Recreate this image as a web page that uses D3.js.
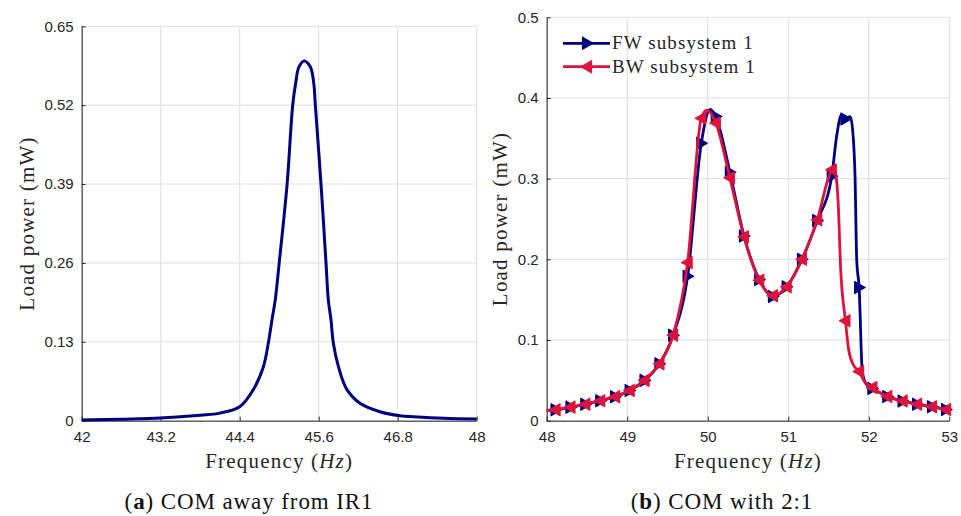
<!DOCTYPE html>
<html>
<head>
<meta charset="utf-8">
<script src="https://cdn.jsdelivr.net/npm/d3@7"></script>
<style>
  body { margin: 0; background: #fff; }
  svg { display: block; }
  .tick text { font-family: "Liberation Sans", Arial, sans-serif; font-size: 15px; fill: #262626; }
  .lab { font-family: "Liberation Serif", "Times New Roman", serif; fill: #262626; }
</style>
</head>
<body>
<div id="chart"></div>
<script>
// panel (a): single response curve
const aFreq = [42.0, 42.6, 43.2, 43.8, 44.1, 44.4, 44.6, 44.76, 44.835, 44.89, 44.94, 45.0, 45.12, 45.205, 45.25, 45.3, 45.38,
               45.474, 45.525, 45.549, 45.635, 45.711, 45.746, 45.787, 45.822, 45.9, 46.025, 46.227, 46.53, 46.835, 47.04, 47.5, 48.0];
const aPower = [0.001, 0.0025, 0.0045, 0.009, 0.0125, 0.023, 0.05, 0.089, 0.128, 0.166, 0.199, 0.26, 0.39, 0.52, 0.556, 0.583, 0.593,
                0.583, 0.556, 0.52, 0.39, 0.26, 0.199, 0.166, 0.128, 0.089, 0.052, 0.0287, 0.0148, 0.0082, 0.0066, 0.004, 0.0028];
const aXTicks = [42, 43.2, 44.4, 45.6, 46.8, 48];
const aYTicks = [0, 0.13, 0.26, 0.39, 0.52, 0.65];

// panel (b): forward / backward sweep, marker frequencies shared
const markFreq = [48.11, 48.295, 48.48, 48.665, 48.85, 49.03, 49.215, 49.4, 49.57, 49.75, 49.92, 50.1, 50.275, 50.45,
                  50.64, 50.81, 50.98, 51.17, 51.36, 51.54, 51.71, 51.88, 52.045, 52.23, 52.42, 52.6, 52.785, 52.96];
const fwMark = [0.0135, 0.0168, 0.0205, 0.0248, 0.0298, 0.0375, 0.05, 0.0705, 0.106, 0.179, 0.344, 0.377, 0.308, 0.229,
                0.175, 0.154, 0.166, 0.2, 0.248, 0.303, 0.374, 0.165, 0.04, 0.03, 0.0245, 0.0205, 0.0172, 0.014];
const bwMark = [0.0135, 0.0168, 0.0205, 0.0248, 0.0298, 0.0375, 0.05, 0.0705, 0.106, 0.196, 0.375, 0.369, 0.301, 0.228,
                0.174, 0.155, 0.166, 0.2, 0.249, 0.311, 0.124, 0.061, 0.041, 0.03, 0.0245, 0.0205, 0.0172, 0.014];
// extra line-only points (ends, peaks, jumps)
const fwExtraFreq = [48.0, 50.03, 51.6, 51.66, 51.77, 51.8, 51.83, 51.85, 51.92, 51.97, 53.0];
const fwExtraVal = [0.0128, 0.386, 0.352, 0.379, 0.377, 0.36, 0.3, 0.2, 0.06, 0.045, 0.0133];
const bwExtraFreq = [48.0, 49.99, 51.56, 51.59, 51.62, 51.65, 51.75, 51.81, 51.95, 53.0];
const bwExtraVal = [0.0128, 0.385, 0.313, 0.305, 0.27, 0.19, 0.088, 0.069, 0.048, 0.0133];
const bXTicks = [48, 49, 50, 51, 52, 53];
const bYTicks = [0, 0.1, 0.2, 0.3, 0.4, 0.5];

const legendNames = ["FW subsystem 1", "BW subsystem 1"];
const navy = "#000080", crimson = "#dc143c";
const serif = "'Liberation Serif', 'Times New Roman', serif";

const svg = d3.select("#chart").append("svg").attr("width", 961).attr("height", 516);

function panel(o) {
  const x = d3.scaleLinear().domain(o.xd).range(o.xr);
  const y = d3.scaleLinear().domain(o.yd).range(o.yr);
  const g = svg.append("g");

  // grid
  g.append("g").selectAll("line").data(o.xt).join("line")
    .attr("x1", d => x(d)).attr("x2", d => x(d)).attr("y1", o.yr[0]).attr("y2", o.yr[1])
    .attr("stroke", "#dedede").attr("stroke-width", 1);
  g.append("g").selectAll("line").data(o.yt).join("line")
    .attr("y1", d => y(d)).attr("y2", d => y(d)).attr("x1", o.xr[0]).attr("x2", o.xr[1])
    .attr("stroke", "#dedede").attr("stroke-width", 1);

  const ax = g.append("g").attr("transform", `translate(0,${o.yr[0]})`)
    .call(d3.axisBottom(x).tickValues(o.xt).tickFormat(d => String(d)).tickSizeInner(-4).tickSizeOuter(0).tickPadding(11));
  const ay = g.append("g").attr("transform", `translate(${o.xr[0]},0)`)
    .call(d3.axisLeft(y).tickValues(o.yt).tickFormat(d => String(d)).tickSizeInner(-4).tickSizeOuter(0).tickPadding(8));
  [ax, ay].forEach(a => {
    a.select(".domain").attr("stroke", "#262626");
    a.selectAll(".tick line").attr("stroke", "#262626");
    a.selectAll(".tick text").attr("font-family", null).attr("font-size", null);
  });

  // axis titles
  const xl = g.append("text").attr("class", "lab").attr("font-family", serif)
    .attr("x", (o.xr[0] + o.xr[1]) / 2).attr("y", 468)
    .attr("text-anchor", "middle").style("font-size", "21px").style("letter-spacing", "1.2px");
  xl.append("tspan").text("Frequency (");
  xl.append("tspan").attr("font-style", "italic").text("Hz");
  xl.append("tspan").text(")");
  g.append("text").attr("class", "lab").attr("font-family", serif)
    .attr("transform", `translate(${o.ylx},${(o.yr[0] + o.yr[1]) / 2}) rotate(-90)`)
    .attr("text-anchor", "middle").style("font-size", "21px").style("letter-spacing", "1.2px")
    .text("Load power (mW)");

  // caption
  const cap = g.append("text").attr("class", "lab").attr("font-family", serif)
    .attr("x", o.capx).attr("y", 509)
    .attr("text-anchor", "middle").style("font-size", "23px").style("letter-spacing", "0.9px").style("fill", "#111");
  cap.append("tspan").text("(");
  cap.append("tspan").attr("font-weight", "bold").text(o.letter);
  cap.append("tspan").text(") " + o.caption);

  return { g, x, y };
}

function tri(dir) {
  // dir 1 = right-pointing, -1 = left-pointing
  return `M${-4.5 * dir},-6L${6 * dir},0L${-4.5 * dir},6Z`;
}

// ---- panel (a)
const pa = panel({ xd: [42, 48], yd: [0, 0.65], xr: [81.7, 476.7], yr: [420.7, 26.3], xt: aXTicks, yt: aYTicks,
  ylx: 34, capx: 249, letter: "a", caption: "COM away from IR1" });
pa.g.append("path")
  .datum(aFreq.map((f, i) => [f, aPower[i]]))
  .attr("fill", "none").attr("stroke", navy).attr("stroke-width", 3).attr("stroke-linejoin", "round")
  .attr("d", d3.line().x(d => pa.x(d[0])).y(d => pa.y(d[1])).curve(d3.curveCatmullRom.alpha(0.5)));

// ---- panel (b)
const pb = panel({ xd: [48, 53], yd: [0, 0.5], xr: [546.7, 949.3], yr: [420.7, 17.3], xt: bXTicks, yt: bYTicks,
  ylx: 507, capx: 722, letter: "b", caption: "COM with 2:1" });

const series = [
  { name: legendNames[0], color: navy, dir: 1, mark: fwMark, ef: fwExtraFreq, ev: fwExtraVal },
  { name: legendNames[1], color: crimson, dir: -1, mark: bwMark, ef: bwExtraFreq, ev: bwExtraVal }
];
const lineB = d3.line().x(d => pb.x(d[0])).y(d => pb.y(d[1])).curve(d3.curveMonotoneX);

series.forEach((s, k) => {
  const pts = markFreq.map((f, i) => [f, s.mark[i]])
    .concat(s.ef.map((f, i) => [f, s.ev[i]]))
    .sort((a, b) => a[0] - b[0]);
  pb.g.append("path").datum(pts)
    .attr("fill", "none").attr("stroke", s.color).attr("stroke-width", 2.8).attr("stroke-linejoin", "round")
    .attr("d", lineB);
  pb.g.append("g").selectAll("path").data(markFreq).join("path")
    .attr("transform", (f, i) => `translate(${pb.x(f)},${pb.y(s.mark[i])})`)
    .attr("d", tri(s.dir))
    .attr("fill", s.color).attr("stroke", s.color).attr("stroke-width", 1.2).attr("stroke-linejoin", "round");

  // legend entry
  const ly = 43.3 + k * 23.4;
  const lg = pb.g.append("g");
  lg.append("line").attr("x1", 563).attr("x2", 610).attr("y1", ly).attr("y2", ly)
    .attr("stroke", s.color).attr("stroke-width", 2.8);
  lg.append("path").attr("transform", `translate(587,${ly})`).attr("d", tri(s.dir))
    .attr("fill", s.color).attr("stroke", s.color).attr("stroke-width", 1.2);
  lg.append("text").attr("class", "lab").attr("font-family", serif).attr("x", 612).attr("y", ly + 6)
    .style("font-size", "19px").style("letter-spacing", "1.1px").text(s.name);
});
</script>
</body>
</html>
